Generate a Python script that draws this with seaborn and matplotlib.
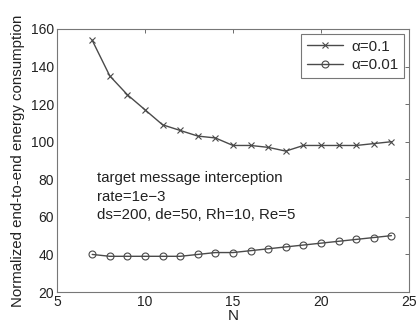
import numpy as np
import pandas as pd
import matplotlib
matplotlib.use("Agg")
import matplotlib.pyplot as plt
import seaborn as sns

n_nodes = list(range(7, 25))
energy_alpha_01 = [154, 135, 125, 117, 109, 106, 103, 102, 98, 98, 97, 95, 98, 98, 98, 98, 99, 100]
energy_alpha_001 = [40, 39, 39, 39, 39, 39, 40, 41, 41, 42, 43, 44, 45, 46, 47, 48, 49, 50]
series_labels = ["\u03b1=0.1", "\u03b1=0.01"]
x_ticks = [5, 10, 15, 20, 25]
y_ticks = [20, 40, 60, 80, 100, 120, 140, 160]
note_lines = ["target message interception", "rate=1e\u22123", "ds=200, de=50, Rh=10, Re=5"]

sns.set_style("white")
plt.rcParams["font.family"] = ["Liberation Sans", "DejaVu Sans"]

fig = plt.figure(figsize=(4.16, 3.24), dpi=100)
ax = fig.add_axes([57 / 416, 1 - 292 / 324, (409 - 57) / 416, (292 - 29) / 324])

line_color = "#4a4a4a"
for values, label, marker in [(energy_alpha_01, series_labels[0], "x"),
                              (energy_alpha_001, series_labels[1], "o")]:
    df = pd.DataFrame({"N": n_nodes, "energy": values})
    sns.lineplot(data=df, x="N", y="energy", label=label, color=line_color,
                 marker=marker, markersize=5, linewidth=1.0,
                 markerfacecolor="none", markeredgecolor=line_color,
                 markeredgewidth=0.8, ax=ax)

ax.set_xlim(5, 25)
ax.set_ylim(20, 160)
ax.set_xticks(x_ticks)
ax.set_yticks(y_ticks)
ax.tick_params(direction="in", length=3, top=True, right=True, labelsize=10,
               colors="#555555", width=0.6, pad=2)
for tl in ax.get_xticklabels() + ax.get_yticklabels():
    tl.set_color("#222222")
for s in ax.spines.values():
    s.set_color("#777777")
    s.set_linewidth(0.8)

ax.set_xlabel("N", fontsize=11, color="#222222", labelpad=0)
ax.set_ylabel("Normalized end-to-end energy consumption", fontsize=10.8,
              color="#222222", labelpad=4)

leg = ax.legend(loc="upper right", fontsize=11, frameon=True, fancybox=False,
                edgecolor="#555555", handlelength=2.4, borderpad=0.35,
                labelspacing=0.3, borderaxespad=0.35, handletextpad=0.5)
leg.get_frame().set_linewidth(0.8)

for line, yv in zip(note_lines, [80.8, 70.6, 61.0]):
    ax.text(7.3, yv, line, fontsize=10.8, color="#222222", va="center", ha="left")

fig.savefig("out.png", dpi=100)
